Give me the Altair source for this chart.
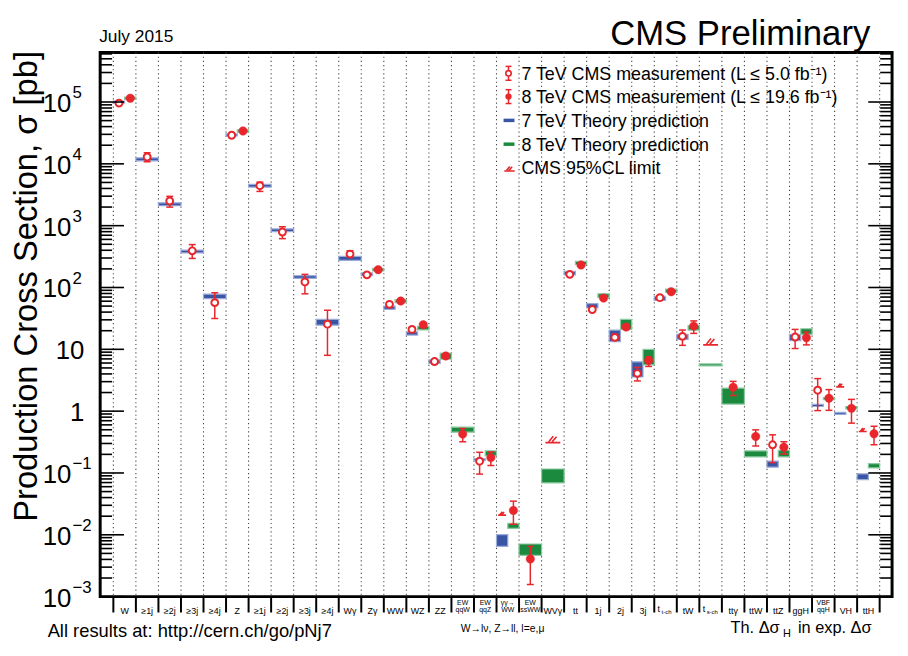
import altair as alt
import pandas as pd

RED = "#e8262b"
BLUE = "#3a55a4"
GREEN = "#1b8a3f"
BLUE_L = "#9aabd8"
GREEN_L = "#8cc9a0"
FONT = "Liberation Sans"

# ---------------- data ----------------
label_top = ["", "", "", "", "", "", "", "", "", "", "", "", "", "", "",
             "EW", "EW", "γγ→", "EW", "", "", "", "", "", "", "", "", "", "", "",
             "", "VBF", "", ""]
label_main = ["W", "≥1j", "≥2j", "≥3j", "≥4j", "Z", "≥1j", "≥2j", "≥3j", "≥4j",
              "Wγ", "Zγ", "WW", "WZ", "ZZ", "qqW", "qqZ", "WW", "ssWW", "WVγ",
              "tt", "1j", "2j", "3j", "t", "tW", "t", "ttγ", "ttW", "ttZ",
              "ggH", "qqH", "VH", "ttH"]
label_sub = ["", "", "", "", "", "", "", "", "", "", "", "", "", "", "",
             "", "", "", "", "", "", "", "", "", "t-ch", "", "s-ch", "", "", "",
             "", "", "", ""]

N = None
meas7_val = [9.6e4, 1.29e4, 2506, 392, 56.9, 2.9e4, 4426, 789, 123, 25.5,
             347, 160, 53.4, 21.0, 6.35, N, 0.155, N, N, N,
             163, 44, 15.6, 4.08, 68.4, 16.2, N, N, N, 0.286,
             15.8, 2.18, N, N]
meas7_lo = [9.2e4, 1.08e4, 1995, 295, 31.5, 2.78e4, 3581, 617, 79, 8.0,
            314, 151, 49, 19.5, 5.8, N, 0.096, N, N, N,
            156, 41, 14.0, 3.08, 64, 11.6, N, N, N, 0.147,
            10.3, 1.02, N, N]
meas7_hi = [1.0e5, 1.51e4, 2980, 494, 82.2, 3.03e4, 5050, 960, 163, 42.8,
            392, 170, 58, 22.6, 6.9, N, 0.216, N, N, N,
            171, 47.5, 17.5, 5.09, 73, 20.5, N, N, N, 0.414,
            21.0, 3.36, N, N]

meas8_val = [1.15e5, N, N, N, N, 3.4e4, N, N, N, N,
             N, 194, 60.3, 24.9, 7.8, 0.425, 0.177, 0.0248, 0.00406, N,
             231, 67.4, 22.9, 6.59, 85.3, 23.7, N, 2.43, 0.39, 0.26,
             15.4, 1.62, 1.11, 0.43]
meas8_lo = [1.1e5, N, N, N, N, 3.25e4, N, N, N, N,
            N, 185, 56.5, 23.2, 7.2, 0.32, 0.132, 0.0148, 0.00157, N,
            222, 63.5, 21.0, 5.28, 80, 18.1, N, 1.79, 0.273, 0.203,
            11.8, 1.03, 0.64, 0.286]
meas8_hi = [1.2e5, N, N, N, N, 3.55e4, N, N, N, N,
            N, 204, 64.5, 26.7, 8.4, 0.525, 0.219, 0.035, 0.0065, N,
            240, 71.5, 25.0, 7.6, 91, 28.8, N, 3.03, 0.498, 0.32,
            19.0, 2.23, 1.55, 0.57]

lim7 = [N] * 17 + [0.0208] + [N] * 14 + [2.47, 0.47]
lim8 = [N] * 19 + [0.31] + [N] * 6 + [11.8] + [N] * 7

th7_lo = [9.6e4, 1.12e4, 2100, 362, 66, 2.82e4, 4200, 800, 140, 24.6,
          274, 155, 44.4, 17.0, 5.9, N, 0.158, 0.0065, N, N,
          160, 46.6, 13.3, 3.57, 61.9, 14.5, N, N, N, 0.124,
          13.8, 1.19, 0.885, 0.078]
th7_hi = [1.03e5, 1.25e4, 2340, 402, 78, 3.05e4, 4650, 885, 156, 30.4,
          318, 172, 50.0, 19.2, 6.76, N, 0.171, 0.0101, N, N,
          182, 55, 20.5, 6.28, 71.7, 17.5, N, N, N, 0.155,
          17.5, 1.29, 0.955, 0.097]
th8_lo = [1.1e5, N, N, N, N, 3.25e4, N, N, N, N,
          N, 185, 56.9, 20.7, 6.94, 0.457, 0.189, 0.0127, 0.00466, 0.069,
          234, 68.4, 21.0, 5.62, 83, 20.5, 5.4, 1.3, 0.182, 0.182,
          17.5, 1.54, 1.09, 0.121]
th8_hi = [1.2e5, N, N, N, N, 3.55e4, N, N, N, N,
          N, 204, 63.5, 23.5, 8.66, 0.55, 0.227, 0.0153, 0.0071, 0.116,
          264, 79.2, 30.4, 10.0, 94, 24.3, 5.8, 2.35, 0.227, 0.233,
          21.5, 1.66, 1.19, 0.142]

y_label_exp = [-3, -2, -1, 0, 1, 2, 3, 4, 5]

# ---------------- layout ----------------
W, H = 799, 549
xs = alt.Scale(domain=[-0.585, 34.551], nice=False, zero=False)
ys = alt.Scale(type="log", domain=[1e-3, 6.32e5], nice=False)

n = len(label_main)
meas_rows, lim_rows, th_rows = [], [], []
for c in range(n):
    e7 = meas7_val[c] is not None or lim7[c] is not None
    e8 = meas8_val[c] is not None or lim8[c] is not None
    both = e7 and e8
    p7 = c + (0.25 if both else 0.5)
    p8 = c + (0.75 if both else 0.5)
    if meas7_val[c] is not None:
        meas_rows.append(dict(pos=p7, val=meas7_val[c], lo=meas7_lo[c], hi=meas7_hi[c], e="7"))
    if meas8_val[c] is not None:
        meas_rows.append(dict(pos=p8, val=meas8_val[c], lo=meas8_lo[c], hi=meas8_hi[c], e="8"))
    if lim7[c] is not None:
        lim_rows.append(dict(pos=p7, val=lim7[c], sz=64 if both else 225))
    if lim8[c] is not None:
        lim_rows.append(dict(pos=p8, val=lim8[c], sz=64 if both else 225))
    t7 = th7_lo[c] is not None
    t8 = th8_lo[c] is not None
    tb = t7 and t8
    if t7:
        th_rows.append(dict(x0=c, x1=c + (0.5 if tb else 1.0), lo=th7_lo[c], hi=th7_hi[c], e="7"))
    if t8:
        th_rows.append(dict(x0=c + (0.5 if tb else 0.0), x1=c + 1.0, lo=th8_lo[c], hi=th8_hi[c], e="8"))

meas = pd.DataFrame(meas_rows)
lims = pd.DataFrame(lim_rows)
theo = pd.DataFrame(th_rows)
bounds = pd.DataFrame({"b": list(range(n + 1))})
labels = pd.DataFrame({"c": [i + 0.5 for i in range(n)], "top": label_top,
                       "main": label_main, "sub": label_sub})

X = lambda f: alt.X(f, scale=xs, axis=None)
Y = lambda f: alt.Y(f, scale=ys, axis=None)

grid = alt.Chart(bounds).mark_rule(color="#444", strokeDash=[1.2, 3], strokeWidth=1.1).encode(
    x=X("b:Q"), y=alt.value(0), y2=alt.value(H))

xticks = alt.Chart(bounds).mark_rule(color="black", strokeWidth=2).encode(
    x=X("b:Q"), y=alt.value(H), y2=alt.value(H + 16))

boxes = alt.Chart(theo).mark_rect(strokeWidth=1.2).encode(
    x=X("x0:Q"), x2="x1:Q", y=Y("lo:Q"), y2="hi:Q",
    fill=alt.Fill("e:N", scale=alt.Scale(domain=["7", "8"], range=[BLUE, GREEN]), legend=None),
    stroke=alt.Stroke("e:N", scale=alt.Scale(domain=["7", "8"], range=[BLUE_L, GREEN_L]), legend=None))

ebar = alt.Chart(meas).mark_rule(color=RED, strokeWidth=1.5).encode(
    x=X("pos:Q"), y=Y("lo:Q"), y2="hi:Q")
CAP = "M-1,0L1,0"
cap_lo = alt.Chart(meas).mark_point(shape=CAP, size=49, stroke=RED, strokeWidth=1.5, filled=False, opacity=1).encode(
    x=X("pos:Q"), y=Y("lo:Q"))
cap_hi = alt.Chart(meas).mark_point(shape=CAP, size=49, stroke=RED, strokeWidth=1.5, filled=False, opacity=1).encode(
    x=X("pos:Q"), y=Y("hi:Q"))
open_pts = alt.Chart(meas).transform_filter("datum.e == '7'").mark_point(
    shape="circle", size=48, filled=True, fill="white", stroke=RED, strokeWidth=2, opacity=1).encode(
    x=X("pos:Q"), y=Y("val:Q"))
full_pts = alt.Chart(meas).transform_filter("datum.e == '8'").mark_point(
    shape="circle", size=72, filled=True, fill=RED, stroke=RED, strokeWidth=0.5, opacity=1).encode(
    x=X("pos:Q"), y=Y("val:Q"))

LIM = "M-1,0L1,0M-0.55,-0.12L0.05,-0.85M-0.1,-0.1L0.5,-0.8"
limits = alt.Chart(lims).mark_point(shape=LIM, filled=False, stroke=RED, strokeWidth=1.6, opacity=1).encode(
    x=X("pos:Q"), y=Y("val:Q"), size=alt.Size("sz:Q", scale=None, legend=None))

# y ticks (left and right, pointing inward)
maj = pd.DataFrame({"v": [10.0 ** e for e in y_label_exp]})
mnr = pd.DataFrame({"v": [m * 10.0 ** e for e in y_label_exp for m in range(2, 10) if m * 10.0 ** e < 6.32e5]})
yt = []
for df, ln in ((maj, 24), (mnr, 12)):
    yt.append(alt.Chart(df).mark_rule(color="black", strokeWidth=1.6).encode(
        y=Y("v:Q"), x=alt.value(0), x2=alt.value(ln)))
    yt.append(alt.Chart(df).mark_rule(color="black", strokeWidth=1.6).encode(
        y=Y("v:Q"), x=alt.value(W - ln), x2=alt.value(W)))

# y tick labels: "10" plus superscript exponent
ylab = pd.DataFrame({"v": [10.0 ** e for e in y_label_exp],
                     "base": ["1" if e == 0 else "10" for e in y_label_exp],
                     "ex": ["" if e in (0, 1) else str(e).replace("-", "−") for e in y_label_exp],
                     "plain": [e in (0, 1) for e in y_label_exp]})
ylab_base_sup = alt.Chart(ylab).transform_filter("!datum.plain").mark_text(
    align="right", baseline="middle", fontSize=26, font=FONT, dy=2).encode(
    y=Y("v:Q"), x=alt.value(-29), text="base:N")
ylab_base_pl = alt.Chart(ylab).transform_filter("datum.plain").mark_text(
    align="right", baseline="middle", fontSize=26, font=FONT, dy=2).encode(
    y=Y("v:Q"), x=alt.value(-16), text="base:N")
ylab_exp = alt.Chart(ylab).transform_filter("!datum.plain").mark_text(
    align="left", baseline="middle", fontSize=17, font=FONT, dy=-9).encode(
    y=Y("v:Q"), x=alt.value(-28), text="ex:N")

# x category labels
xl_single = alt.Chart(labels).transform_filter("datum.top == '' && datum.sub == ''").mark_text(
    baseline="alphabetic", fontSize=9, font=FONT, align="center").encode(
    x=X("c:Q"), y=alt.value(H + 18), text="main:N")
xl_top = alt.Chart(labels).transform_filter("datum.top != ''").mark_text(
    baseline="alphabetic", fontSize=7, font=FONT, align="center").encode(
    x=X("c:Q"), y=alt.value(H + 8), text="top:N")
xl_bot = alt.Chart(labels).transform_filter("datum.top != ''").mark_text(
    baseline="alphabetic", fontSize=7, font=FONT, align="center").encode(
    x=X("c:Q"), y=alt.value(H + 15.5), text="main:N")
xl_t = alt.Chart(labels).transform_filter("datum.sub != ''").mark_text(
    baseline="alphabetic", fontSize=9, font=FONT, align="left", dx=-8).encode(
    x=X("c:Q"), y=alt.value(H + 16), text="main:N")
xl_s = alt.Chart(labels).transform_filter("datum.sub != ''").mark_text(
    baseline="alphabetic", fontSize=6, font=FONT, align="left", dx=-4).encode(
    x=X("c:Q"), y=alt.value(H + 18), text="sub:N")

one = pd.DataFrame({"a": [0]})


def txt(s, x, y, size, align="left", angle=0, baseline="alphabetic"):
    return alt.Chart(one).mark_text(text=s, align=align, baseline=baseline, fontSize=size,
                                    font=FONT, angle=angle, color="black").encode(
        x=alt.value(x), y=alt.value(y))


texts = [
    txt("CMS Preliminary", 777, -8, 35, align="right"),
    txt("July 2015", -1, -11, 17.5),
    txt("Production Cross Section,   σ [pb]", -64, 236, 33, align="center", angle=270),
    txt("All results at: http://cern.ch/go/pNj7", -53, 590, 18.5),
    txt("W→lν, Z→ll, l=e,μ", 406, 585, 10.5, align="center"),
    txt("Th. Δσ", 636, 586, 16.5),
    txt("H", 689, 590, 11),
    txt("in exp. Δσ", 704, 586, 16.5),
]

# legend
LX, TX = 412, 425
rows = [21, 44.5, 68.5, 92.5, 116.5]
leg_text = ["7 TeV CMS measurement (L ≤ 5.0 fb⁻¹)", "8 TeV CMS measurement (L ≤ 19.6 fb⁻¹)",
            "7 TeV Theory prediction", "8 TeV Theory prediction", "CMS 95%CL limit"]
legend = []
for r, s in zip(rows, leg_text):
    legend.append(txt(s, TX, r + 6.5, 18))
for r in rows[:2]:
    legend.append(alt.Chart(one).mark_rule(color=RED, strokeWidth=1.5).encode(
        x=alt.value(LX), y=alt.value(r - 7), y2=alt.value(r + 7)))
    for dy in (-7, 7):
        legend.append(alt.Chart(one).mark_rule(color=RED, strokeWidth=1.5).encode(
            x=alt.value(LX - 3), x2=alt.value(LX + 3), y=alt.value(r + dy)))
legend.append(alt.Chart(one).mark_point(shape="circle", size=30, filled=True, fill="white",
                                        stroke=RED, strokeWidth=1.6, opacity=1).encode(
    x=alt.value(LX), y=alt.value(rows[0])))
legend.append(alt.Chart(one).mark_point(shape="circle", size=40, filled=True, fill=RED,
                                        opacity=1).encode(
    x=alt.value(LX), y=alt.value(rows[1])))
for r, col in ((rows[2], BLUE), (rows[3], GREEN)):
    legend.append(alt.Chart(one).mark_rule(color=col, strokeWidth=3.5).encode(
        x=alt.value(LX - 5), x2=alt.value(LX + 6), y=alt.value(r)))
legend.append(alt.Chart(one).mark_point(shape=LIM, size=110, filled=False, stroke=RED,
                                        strokeWidth=1.6, opacity=1).encode(
    x=alt.value(LX + 1), y=alt.value(rows[4] + 3)))

chart = alt.layer(grid, boxes, ebar, cap_lo, cap_hi, limits, open_pts, full_pts,
                  *yt, xticks, ylab_base_sup, ylab_base_pl, ylab_exp,
                  xl_single, xl_top, xl_bot, xl_t, xl_s, *texts, *legend).properties(
    width=W, height=H,
    padding={"left": 93, "top": 42, "right": 8, "bottom": 57},
    autosize=alt.AutoSizeParams(type="none"),
).configure_view(stroke="black", strokeWidth=3)

chart.save("out.html", embed_options={"renderer": "svg", "actions": False})
